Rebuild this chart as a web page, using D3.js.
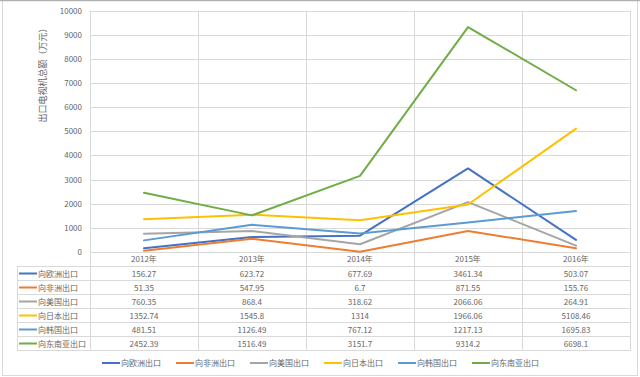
<!DOCTYPE html>
<html><head><meta charset="utf-8">
<script src="https://cdn.jsdelivr.net/npm/d3@7"></script>
<style>
html,body{margin:0;padding:0;background:#fff;}
svg text{font-family:"Noto Sans CJK SC","Liberation Sans",sans-serif;fill:#666;}
</style></head>
<body><svg id="c" width="640" height="377"></svg>
<script>
const years = ["2012年","2013年","2014年","2015年","2016年"];
const seriesNames = ["向欧洲出口","向非洲出口","向美国出口","向日本出口","向韩国出口","向东南亚出口"];
const europe = [156.27,623.72,677.69,3461.34,503.07];
const africa = [51.35,547.95,6.7,871.55,155.76];
const usa = [760.35,868.4,318.62,2066.06,264.91];
const japan = [1352.74,1545.8,1314,1966.06,5108.46];
const korea = [481.51,1126.49,767.12,1217.13,1695.83];
const seAsia = [2452.39,1516.49,3151.7,9314.2,6698.1];
const seriesValues = [europe,africa,usa,japan,korea,seAsia];
const valueLabels = [
 ["156.27","623.72","677.69","3461.34","503.07"],
 ["51.35","547.95","6.7","871.55","155.76"],
 ["760.35","868.4","318.62","2066.06","264.91"],
 ["1352.74","1545.8","1314","1966.06","5108.46"],
 ["481.51","1126.49","767.12","1217.13","1695.83"],
 ["2452.39","1516.49","3151.7","9314.2","6698.1"]];
const colors = ["#4472C4","#ED7D31","#A5A5A5","#FFC000","#5B9BD5","#70AD47"];
const yTicks = [0,1000,2000,3000,4000,5000,6000,7000,8000,9000,10000];
const yTitle = "出口电视机总额（万元）";

const svg = d3.select("#c");
// outer frame
svg.append("rect").attr("x",2.5).attr("y",0.5).attr("width",635).attr("height",375)
  .attr("fill","#fff").attr("stroke","#d9d9d9");
svg.append("line").attr("x1",0).attr("x2",640).attr("y1",0.5).attr("y2",0.5).attr("stroke","#b0b0b0").attr("stroke-width",1.5);

const L=90, R=630, T=10.5, B=252;
const x = d3.scaleBand().domain(years).range([L,R]);
const y = d3.scaleLinear().domain([0,10000]).range([B,T]);

// horizontal gridlines
svg.append("g").selectAll("line").data(yTicks).join("line")
  .attr("x1",L).attr("x2",R).attr("y1",d=>Math.round(y(d))+0.5).attr("y2",d=>Math.round(y(d))+0.5)
  .attr("stroke","#d9d9d9");
// y tick labels
const yAxis = d3.axisLeft(y).tickValues(yTicks).tickFormat(d3.format("d")).tickSize(0).tickPadding(8);
const ga = svg.append("g").attr("transform",`translate(${L},0)`).call(yAxis);
ga.select(".domain").remove();
ga.selectAll("text").attr("font-size",8).attr("fill","#666").attr("font-family","\"Noto Sans CJK SC\",\"Liberation Sans\",sans-serif");

// y title
svg.append("text").attr("transform","translate(46,73) rotate(-90)")
  .attr("text-anchor","middle").attr("font-size",9).text(yTitle);

// table geometry
const rowH = 14;
const tableTop = 266.5;
const labelLeft = 17;
const bounds = years.map(d=>x(d)).concat([R]);
// vertical lines (plot + table)
svg.append("g").selectAll("line").data(bounds).join("line")
  .attr("x1",d=>Math.round(d)+0.5).attr("x2",d=>Math.round(d)+0.5)
  .attr("y1",T).attr("y2",tableTop+rowH*seriesNames.length)
  .attr("stroke","#d9d9d9");
// label column left edge
svg.append("line").attr("x1",labelLeft+0.5).attr("x2",labelLeft+0.5)
  .attr("y1",tableTop).attr("y2",tableTop+rowH*seriesNames.length).attr("stroke","#d9d9d9");
// row lines
svg.append("g").selectAll("line").data(d3.range(seriesNames.length+1)).join("line")
  .attr("x1",labelLeft).attr("x2",R+0.5)
  .attr("y1",i=>tableTop+i*rowH).attr("y2",i=>tableTop+i*rowH)
  .attr("stroke","#d9d9d9");
// year header
svg.append("g").selectAll("text").data(years).join("text")
  .attr("x",d=>x(d)+x.bandwidth()/2).attr("y",262).attr("text-anchor","middle")
  .attr("font-size",8).text(d=>d);
// rows
seriesNames.forEach((name,i)=>{
  const cy = tableTop + i*rowH + rowH/2;
  svg.append("line").attr("x1",19).attr("x2",37).attr("y1",cy).attr("y2",cy)
    .attr("stroke",colors[i]).attr("stroke-width",2);
  svg.append("text").attr("x",38).attr("y",cy+3).attr("font-size",8).text(name);
  svg.append("g").selectAll("text").data(valueLabels[i]).join("text")
    .attr("x",(d,j)=>x(years[j])+x.bandwidth()/2).attr("y",cy+3)
    .attr("text-anchor","middle").attr("font-size",8).text(d=>d);
});

// lines
const line = d3.line().x((d,j)=>x(years[j])+x.bandwidth()/2).y(d=>y(d));
svg.append("g").selectAll("path").data(seriesValues).join("path")
  .attr("d",d=>line(d)).attr("fill","none")
  .attr("stroke",(d,i)=>colors[i]).attr("stroke-width",2).attr("stroke-linejoin","round").attr("stroke-linecap","round");

// legend
const lg = svg.append("g");
seriesNames.forEach((name,i)=>{
  const lx = 102 + i*74, ly = 363;
  lg.append("line").attr("x1",lx).attr("x2",lx+18).attr("y1",ly).attr("y2",ly)
    .attr("stroke",colors[i]).attr("stroke-width",2);
  lg.append("text").attr("x",lx+19).attr("y",ly+3).attr("font-size",8).text(name);
});
</script></body></html>
